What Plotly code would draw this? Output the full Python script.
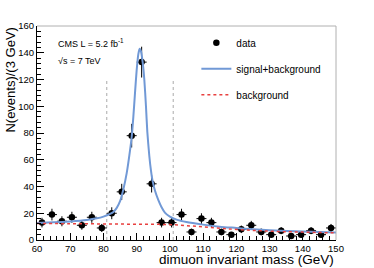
import numpy as np
import plotly.graph_objects as go

# ---- data ----
bin_centers = [61.5, 64.5, 67.5, 70.5, 73.5, 76.5, 79.5, 82.5, 85.5, 88.5,
               91.5, 94.5, 97.5, 100.5, 103.5, 106.5, 109.5, 112.5, 115.5, 118.5,
               121.5, 124.5, 127.5, 130.5, 133.5, 136.5, 139.5, 142.5, 145.5, 148.5]
counts = [13, 19, 14, 17, 11, 17, 9, 20, 36, 78,
          133, 42, 13, 13, 19, 6, 16, 13, 6, 4,
          8, 11, 6, 4, 7, 3, 4, 7, 4, 9]
bin_half_width = 1.5

fit_x = [60, 65, 70, 75, 78, 80, 82, 83, 84, 85, 86, 87, 88, 88.5, 89, 89.5,
         90, 90.5, 90.9, 91.3, 91.8, 92.3, 92.8, 93.2, 93.8, 94.3, 94.8, 95.5,
         96.5, 97.5, 98.5, 100, 102, 105, 110, 115, 120, 125, 130, 140, 150]
fit_y = [12.8, 13.2, 13.9, 15.0, 16.2, 17.5, 19.5, 21, 24, 29, 38, 50, 67, 77, 92, 110,
         127, 139, 143, 141, 133, 120, 100, 81, 63, 52, 44, 37,
         30, 24.5, 20.5, 17.5, 15.2, 13.4, 11.5, 10.0, 9.0, 8.0, 7.3, 6.3, 5.6]

bkg_x = [60, 70, 80, 90, 100, 110, 120, 130, 140, 150]
bkg_y = [12.3, 12.2, 12.0, 11.8, 11.5, 9.8, 7.9, 6.6, 5.9, 5.3]

window_edges = [81, 101]
window_top = 120

errors = [float(np.sqrt(c)) for c in counts]

FONT = "Liberation Sans, Arial, Helvetica, sans-serif"

fig = go.Figure()

fig.add_trace(go.Scatter(
    x=bin_centers, y=counts, mode="markers", name="data",
    marker=dict(color="black", size=6.5),
    error_y=dict(type="data", array=errors, color="black", thickness=1, width=0),
    error_x=dict(type="constant", value=bin_half_width, color="black", thickness=1, width=0),
    legendgroup="a",
))
fig.add_trace(go.Scatter(
    x=fit_x, y=fit_y, mode="lines", name="signal+background",
    line=dict(color="#7199d6", width=2, shape="spline", smoothing=0.6),
    legendgroup="b",
))
fig.add_trace(go.Scatter(
    x=bkg_x, y=bkg_y, mode="lines", name="background",
    line=dict(color="#e8403f", width=1.5, dash="dot", shape="spline"),
    legendgroup="c",
))

for xe in window_edges:
    fig.add_shape(type="line", xref="x", yref="y", x0=xe, x1=xe, y0=0, y1=window_top,
                  line=dict(color="#aaaaaa", width=1, dash="dot"), layer="below")

fig.add_annotation(x=0.063, y=0.922, xref="paper", yref="paper", xanchor="left", yanchor="middle",
                   text="CMS L = 5.2 fb<sup>-1</sup>", showarrow=False,
                   font=dict(family=FONT, size=9, color="black"))
fig.add_annotation(x=0.063, y=0.835, xref="paper", yref="paper", xanchor="left", yanchor="middle",
                   text="\u221as = 7 TeV", showarrow=False,
                   font=dict(family=FONT, size=9, color="black"))

fig.update_layout(
    width=374, height=268,
    margin=dict(l=37, r=38, t=26, b=28),
    paper_bgcolor="white", plot_bgcolor="white",
    font=dict(family=FONT, size=10, color="black"),
    showlegend=True,
    legend=dict(x=0.533, y=0.99, xanchor="left", yanchor="top",
                bgcolor="rgba(0,0,0,0)", font=dict(family=FONT, size=10, color="black"),
                tracegroupgap=7, traceorder="grouped", itemwidth=30),
    xaxis=dict(range=[60, 150], dtick=10, tick0=60, ticks="inside", ticklen=7,
               tickcolor="black", showgrid=False, zeroline=False,
               showline=True, linecolor="black", linewidth=1, mirror=False,
               tickfont=dict(family=FONT, size=9.5),
               minor=dict(dtick=2, ticks="inside", ticklen=4, tickcolor="black")),
    yaxis=dict(range=[0, 160], dtick=20, ticks="inside", ticklen=7,
               tickcolor="black", showgrid=False, zeroline=False,
               showline=True, linecolor="black", linewidth=1,
               tickfont=dict(family=FONT, size=9.5),
               minor=dict(dtick=4, ticks="inside", ticklen=4, tickcolor="black")),
)

# right and top frame lines (gray)
fig.add_shape(type="line", xref="paper", yref="paper", x0=0, x1=1, y0=1, y1=1,
              line=dict(color="#b0b0b0", width=1))
fig.add_shape(type="line", xref="paper", yref="paper", x0=1, x1=1, y0=0, y1=1,
              line=dict(color="#b0b0b0", width=1))

fig.add_annotation(x=1, y=-0.091, xref="paper", yref="paper", xanchor="right", yanchor="middle",
                   text="dimuon invariant mass (GeV)", showarrow=False,
                   font=dict(family=FONT, size=13.5, color="black"))
fig.add_annotation(x=-0.09, y=1, xref="paper", yref="paper", xanchor="center", yanchor="top",
                   text="N(events)/(3 GeV)", showarrow=False, textangle=-90,
                   font=dict(family=FONT, size=13, color="black"))

fig.write_html("out.html", config={"displayModeBar": False},
               post_script="document.body.style.margin='0';")
